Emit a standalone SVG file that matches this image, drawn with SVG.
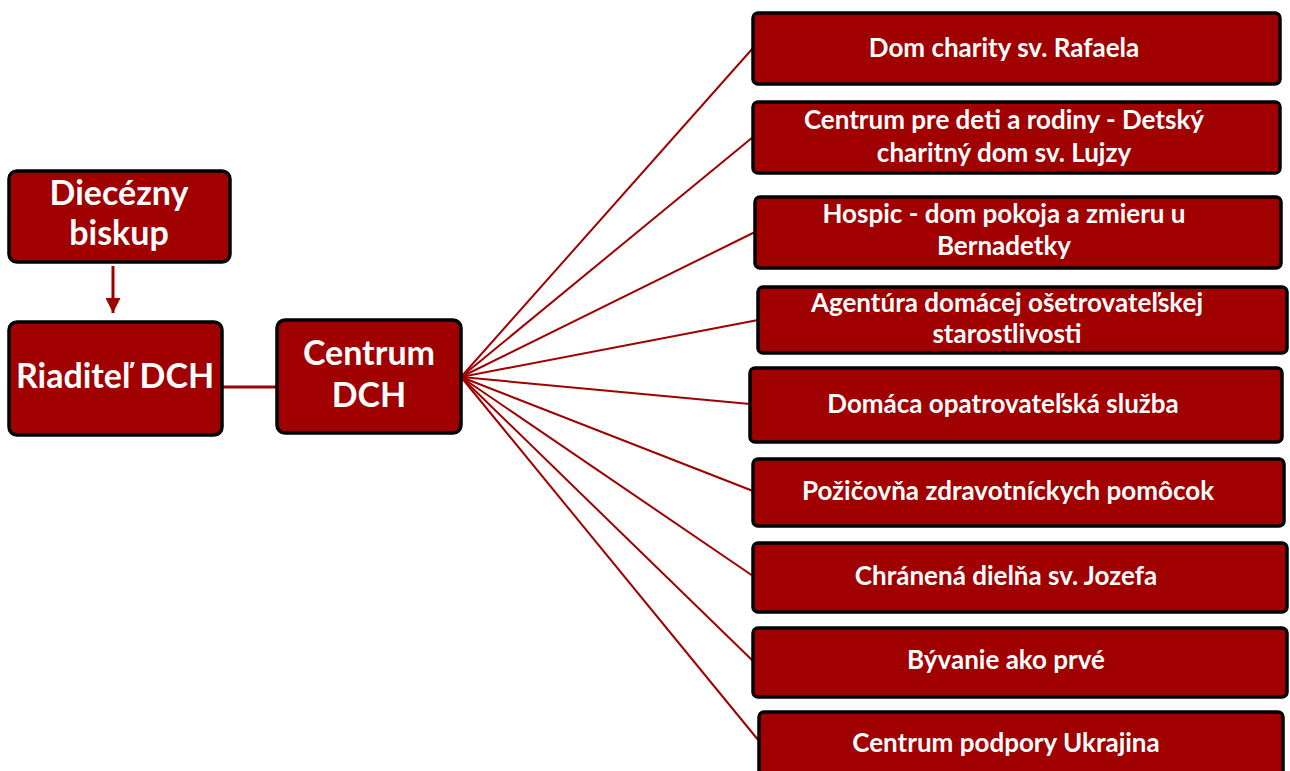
<svg xmlns="http://www.w3.org/2000/svg" width="1290" height="771" viewBox="0 0 1290 771">
<defs>
<style>
.box{fill:#a00000;stroke:#000;stroke-width:3.5}
.t{fill:#fff;font-family:Lato,"Open Sans","Liberation Sans",sans-serif;font-weight:bold;text-anchor:middle}
.s{font-size:26px}
.b{font-size:34px}
.c{stroke:#a00000;stroke-width:2;fill:none}
</style>
<marker id="ah" viewBox="0 0 10 10" refX="10" refY="5" markerWidth="5" markerHeight="5" markerUnits="strokeWidth" orient="auto">
<path d="M0,0 L10,5 L0,10 z" fill="#a00000"/>
</marker>
</defs>
<rect width="1290" height="771" fill="#fff"/>
<g id="connectors">
<line class="c" x1="113" y1="266" x2="113" y2="313" style="stroke-width:3" marker-end="url(#ah)"/>
<line class="c" x1="222" y1="387" x2="277" y2="387" style="stroke-width:3"/>
<line class="c" x1="461" y1="377" x2="753" y2="48"/>
<line class="c" x1="461" y1="377" x2="753" y2="137"/>
<line class="c" x1="461" y1="377" x2="755" y2="232"/>
<line class="c" x1="461" y1="377" x2="758" y2="320"/>
<line class="c" x1="461" y1="377" x2="750" y2="404"/>
<line class="c" x1="461" y1="377" x2="753" y2="491"/>
<line class="c" x1="461" y1="377" x2="753" y2="576"/>
<line class="c" x1="461" y1="377" x2="753" y2="661"/>
<line class="c" x1="461" y1="377" x2="759" y2="741"/>
</g>
<g id="n-biskup"><rect class="box" x="9" y="171" width="221" height="91" rx="8"/>
<text class="t b" x="119" y="205">Diecézny</text><text class="t b" x="119" y="245">biskup</text></g>
<g id="n-riaditel"><rect class="box" x="9" y="322" width="213" height="113" rx="8"/>
<text class="t b" x="115" y="388">Riaditeľ DCH</text></g>
<g id="n-centrum"><rect class="box" x="277" y="320" width="184" height="113" rx="8"/>
<text class="t b" x="369" y="365">Centrum</text><text class="t b" x="369" y="407">DCH</text></g>
<g id="n1"><rect class="box" x="753" y="13" width="527" height="71" rx="5"/>
<text class="t s" x="1004" y="57">Dom charity sv. Rafaela</text></g>
<g id="n2"><rect class="box" x="753" y="102" width="527" height="71" rx="5"/>
<text class="t s" x="1004" y="129">Centrum pre deti a rodiny - Detský</text><text class="t s" x="1004" y="162">charitný dom sv. Lujzy</text></g>
<g id="n3"><rect class="box" x="755" y="197" width="526" height="71" rx="5"/>
<text class="t s" x="1004" y="223">Hospic - dom pokoja a zmieru u</text><text class="t s" x="1004" y="255">Bernadetky</text></g>
<g id="n4"><rect class="box" x="758" y="287" width="529" height="66" rx="5"/>
<text class="t s" x="1007" y="312">Agentúra domácej ošetrovateľskej</text><text class="t s" x="1007" y="343">starostlivosti</text></g>
<g id="n5"><rect class="box" x="750" y="368" width="532" height="74" rx="5"/>
<text class="t s" x="1003" y="413">Domáca opatrovateľská služba</text></g>
<g id="n6"><rect class="box" x="753" y="459" width="531" height="67" rx="5"/>
<text class="t s" x="1008" y="500">Požičovňa zdravotníckych pomôcok</text></g>
<g id="n7"><rect class="box" x="753" y="543" width="534" height="69" rx="5"/>
<text class="t s" x="1006" y="585">Chránená dielňa sv. Jozefa</text></g>
<g id="n8"><rect class="box" x="753" y="628" width="534" height="69" rx="5"/>
<text class="t s" x="1006" y="669">Bývanie ako prvé</text></g>
<g id="n9"><rect class="box" x="759" y="712" width="524" height="70" rx="5"/>
<text class="t s" x="1006" y="752">Centrum podpory Ukrajina</text></g>
</svg>
